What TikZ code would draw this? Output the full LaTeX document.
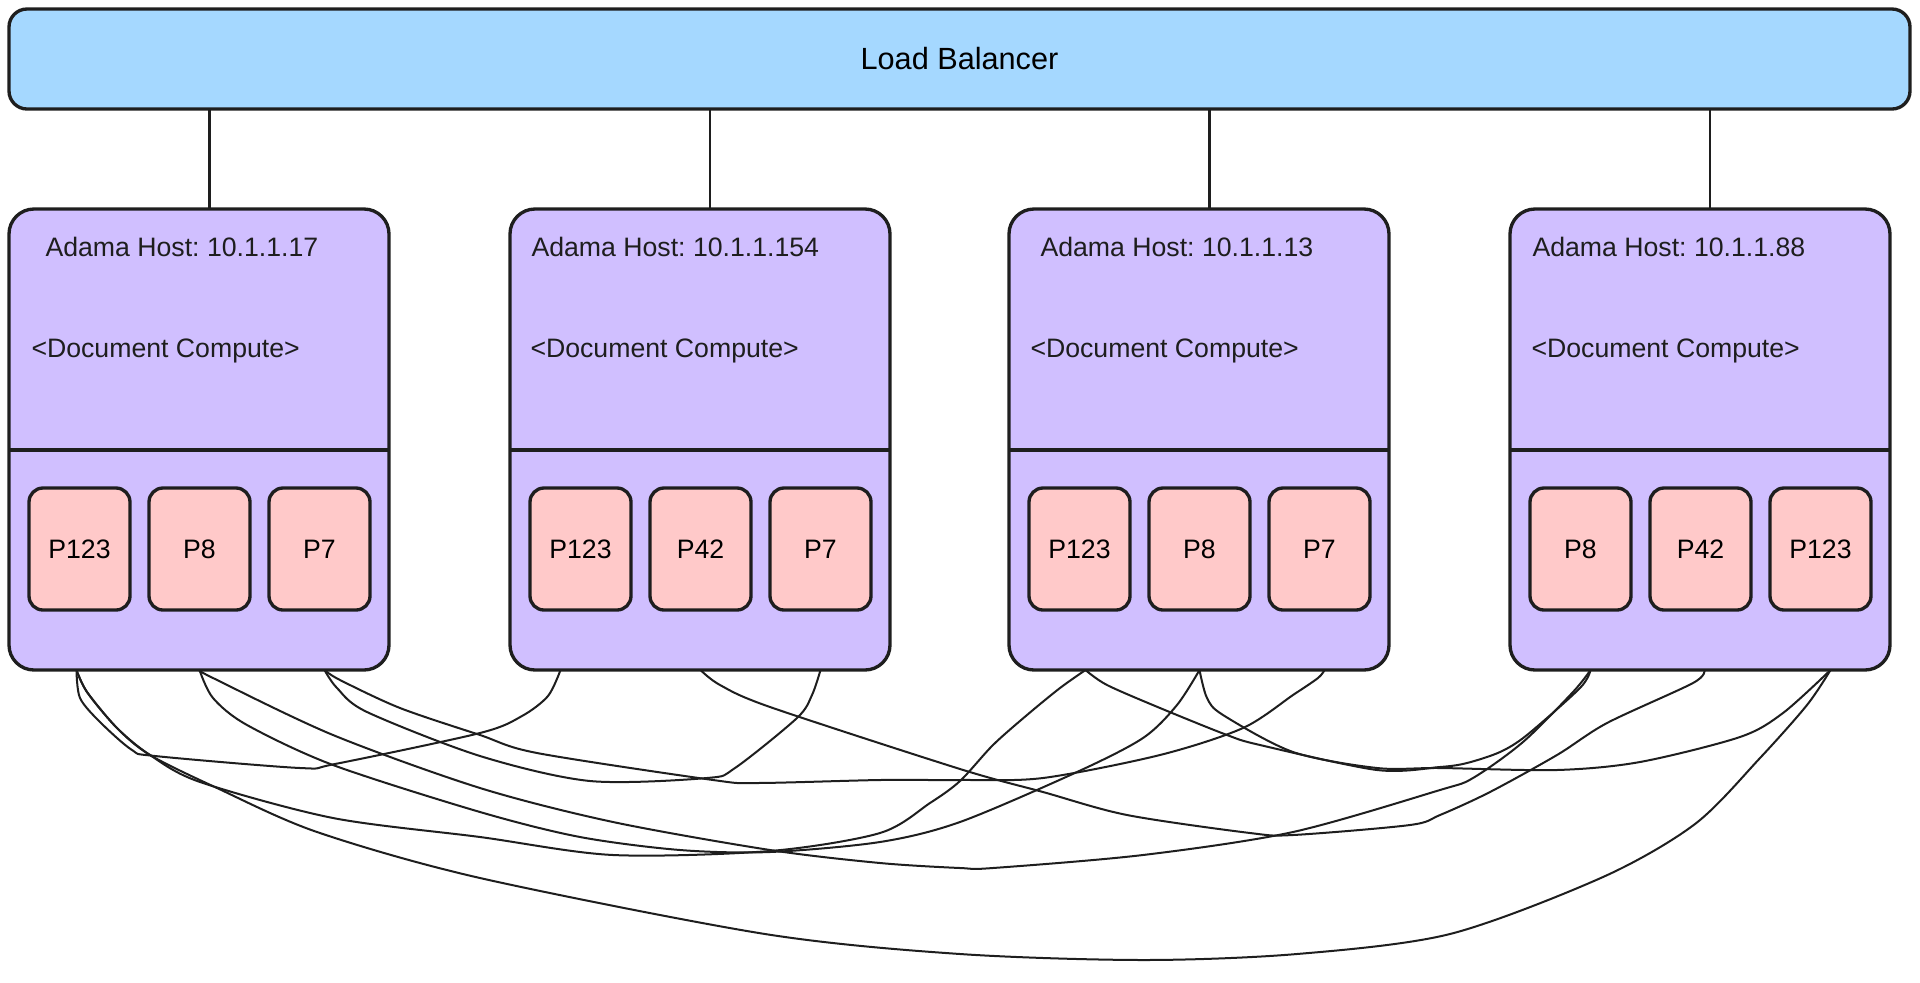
\documentclass[tikz,border=0pt]{standalone}
\usepackage{fontspec}
\setmainfont{Liberation Sans}
\frenchspacing

\tikzset{every picture/.style={line width=0.75pt}}
\tikzset{
  lbbox/.style={draw={rgb, 255:red, 30; green, 30; blue, 30 }, fill={rgb, 255:red, 165; green, 216; blue, 255 }, line width=2.5pt, rounded corners=13.5pt, minimum width=1425.75pt, minimum height=75pt, inner sep=0pt, outer sep=0pt, font=\fontsize{23}{27}\selectfont},
  hostbox/.style={draw={rgb, 255:red, 30; green, 30; blue, 30 }, fill={rgb, 255:red, 208; green, 191; blue, 255 }, line width=2.5pt, rounded corners=18.75pt, minimum width=285pt, minimum height=345.75pt, inner sep=0pt, outer sep=0pt},
  partbox/.style={draw={rgb, 255:red, 30; green, 30; blue, 30 }, fill={rgb, 255:red, 255; green, 201; blue, 201 }, line width=2.5pt, rounded corners=10.5pt, minimum width=75.75pt, minimum height=91.5pt, inner sep=0pt, outer sep=0pt, font=\fontsize{20}{24}\selectfont},
  hosttext/.style={anchor=base west, inner sep=0pt, text={rgb, 255:red, 30; green, 30; blue, 30 }, font=\fontsize{20}{24}\selectfont},
  hostline/.style={draw={rgb, 255:red, 30; green, 30; blue, 30 }, line width=2.5pt},
  lbwire/.style={draw={rgb, 255:red, 30; green, 30; blue, 30 }, line width=1.9pt},
  replink/.style={draw={rgb, 255:red, 30; green, 30; blue, 30 }, line width=1.5pt, line cap=round, line join=round}
}

\begin{document}
\begin{tikzpicture}[x=0.75pt,y=0.75pt,yscale=-1,xscale=1]
        \useasboundingbox (0,0) rectangle (1920,982);
        %Shape: Rounded Rect [id:lb] 
        \node [lbbox] (lb) at (959.5,59) {Load Balancer};

        %Shape: Rounded Rect [id:host1] 
        \node [hostbox] (h1) at (199,439.5) {};
        \draw [hostline] (h1.west |- 0,450) -- (h1.east |- 0,450) ;
        % Text Node
        \node [hosttext] (h1title) at (45,256) {Adama Host: 10.1.1.17};
        % Text Node
        \node [hosttext] (h1note) at (31,357) {<Document Compute>};
        \node [partbox] (h1a) at (79.5,549) {P123};
        \node [partbox] (h1b) at (199.5,549) {P8};
        \node [partbox] (h1c) at (319.5,549) {P7};

        %Shape: Rounded Rect [id:host2] 
        \node [hostbox] (h2) at (700,439.5) {};
        \draw [hostline] (h2.west |- 0,450) -- (h2.east |- 0,450) ;
        % Text Node
        \node [hosttext] (h2title) at (531,256) {Adama Host: 10.1.1.154};
        % Text Node
        \node [hosttext] (h2note) at (530,357) {<Document Compute>};
        \node [partbox] (h2a) at (580.5,549) {P123};
        \node [partbox] (h2b) at (700.5,549) {P42};
        \node [partbox] (h2c) at (820.5,549) {P7};

        %Shape: Rounded Rect [id:host3] 
        \node [hostbox] (h3) at (1199,439.5) {};
        \draw [hostline] (h3.west |- 0,450) -- (h3.east |- 0,450) ;
        % Text Node
        \node [hosttext] (h3title) at (1040,256) {Adama Host: 10.1.1.13};
        % Text Node
        \node [hosttext] (h3note) at (1030,357) {<Document Compute>};
        \node [partbox] (h3a) at (1079.5,549) {P123};
        \node [partbox] (h3b) at (1199.5,549) {P8};
        \node [partbox] (h3c) at (1319.5,549) {P7};

        %Shape: Rounded Rect [id:host4] 
        \node [hostbox] (h4) at (1700,439.5) {};
        \draw [hostline] (h4.west |- 0,450) -- (h4.east |- 0,450) ;
        % Text Node
        \node [hosttext] (h4title) at (1532,256) {Adama Host: 10.1.1.88};
        % Text Node
        \node [hosttext] (h4note) at (1531,357) {<Document Compute>};
        \node [partbox] (h4a) at (1580.5,549) {P8};
        \node [partbox] (h4b) at (1700.5,549) {P42};
        \node [partbox] (h4c) at (1820.5,549) {P123};

        %Straight Lines [id:lbwires] 
        \draw [lbwire] ([xshift=8pt]h1.north) -- ([xshift=8pt]h1.north |- lb.south) ;
        \draw [lbwire] ([xshift=7.5pt]h2.north) -- ([xshift=7.5pt]h2.north |- lb.south) ;
        \draw [lbwire] ([xshift=8pt]h3.north) -- ([xshift=8pt]h3.north |- lb.south) ;
        \draw [lbwire] ([xshift=7.5pt]h4.north) -- ([xshift=7.5pt]h4.north |- lb.south) ;

        % link ends under the partitions
        \path (h1a |- h1.south) ++(-3,0) coordinate (e1a);
        \path (h1b |- h1.south) coordinate (e1b);
        \path (h1c |- h1.south) ++(5,0) coordinate (e1c);
        \path (h2a |- h2.south) ++(-20,0) coordinate (e2a);
        \path (h2b |- h2.south) coordinate (e2b);
        \path (h2c |- h2.south) coordinate (e2c);
        \path (h3a |- h3.south) ++(6,0) coordinate (e3a);
        \path (h3b |- h3.south) coordinate (e3b);
        \path (h3c |- h3.south) ++(5,0) coordinate (e3c);
        \path (h4a |- h4.south) ++(10,0) coordinate (e4a);
        \path (h4b |- h4.south) ++(4,0) coordinate (e4b);
        \path (h4c |- h4.south) ++(10,0) coordinate (e4c);

        %Curve Lines [id:p123a] 
        \draw [replink] plot [smooth] coordinates {(e1a) (80,698) (100,722) (132,750) (155,756) (300,768) (335,764) (480,733) (522,716) (548,696) (e2a)};
        %Curve Lines [id:p123b] 
        \draw [replink] plot [smooth] coordinates {(e1a) (87,692) (117,728) (150,755) (200,782) (333,818) (480,837) (613,855) (770,851) (880,833) (930,803) (960,781) (993,745) (1027,715) (1060,688) (e3a)};
        %Curve Lines [id:p123c] 
        \draw [replink] plot [smooth] coordinates {(e1a) (87,692) (117,728) (150,755) (217,788) (317,832) (480,878) (765,934) (960,954) (1144,960) (1297,954) (1450,934) (1603,877) (1695,824) (1760,758) (1807,705) (e4c)};
        %Curve Lines [id:p8a] 
        \draw [replink] plot [smooth] coordinates {(e1b) (213,698) (247,725) (333,765) (480,812) (580,837) (680,850) (770,852) (880,842) (960,822) (1077,772) (1143,738) (1177,705) (e3b)};
        %Curve Lines [id:p8b] 
        \draw [replink] plot [smooth] coordinates {(e1b) (213,678) (333,735) (480,788) (613,822) (770,850) (880,863) (960,868) (993,868) (1143,855) (1293,832) (1440,790) (1473,778) (1523,742) (1573,692) (e4a)};
        %Curve Lines [id:p7a] 
        \draw [replink] plot [smooth] coordinates {(e1c) (337,688) (367,712) (480,756) (590,781) (707,778) (735,768) (797,718) (812,695) (e2c)};
        %Curve Lines [id:p7b] 
        \draw [replink] plot [smooth] coordinates {(e1c) (340,680) (400,708) (480,735) (537,753) (713,780) (757,783) (880,780) (960,780) (1043,778) (1160,755) (1243,728) (1293,695) (1318,678) (e3c)};
        %Curve Lines [id:p42] 
        \draw [replink] plot [smooth] coordinates {(e2b) (720,685) (770,707) (960,769) (1043,792) (1127,815) (1250,833) (1293,835) (1410,825) (1440,815) (1490,792) (1557,755) (1607,723) (1693,683) (e4b)};
        %Curve Lines [id:h3h4a] 
        \draw [replink] plot [smooth] coordinates {(e3a) (1107,685) (1160,708) (1227,735) (1260,745) (1377,770) (1440,767) (1467,763) (1500,752) (1527,735) (1580,688) (e4a)};
        %Curve Lines [id:h3h4b] 
        \draw [replink] plot [smooth] coordinates {(e3b) (1207,698) (1223,715) (1293,752) (1377,768) (1440,768) (1557,770) (1640,762) (1740,737) (1783,713) (e4c)};
\end{tikzpicture}
\end{document}
